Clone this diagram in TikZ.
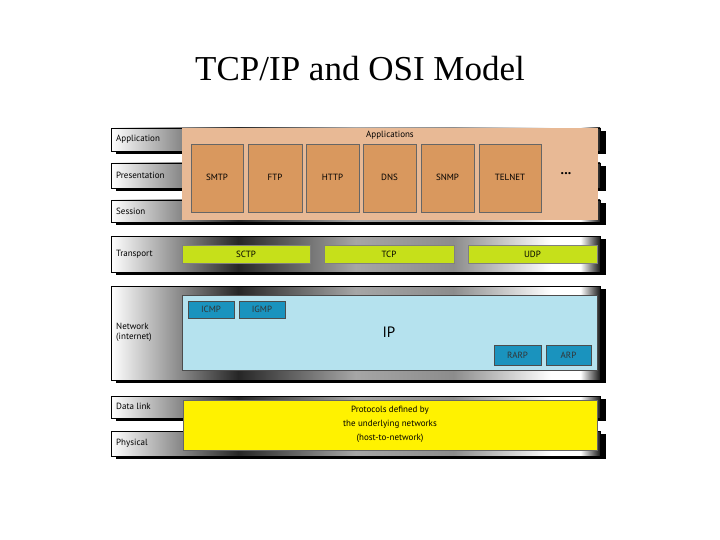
\documentclass[tikz,border=0pt]{standalone}
\usepackage{fontspec}
\setmainfont{Liberation Serif}
\newfontfamily\lblfont{PT Sans}
\pgfdeclarehorizontalshading{barshade}{100bp}{color(0bp)=(white); color(25bp)=(white); color(38bp)=(black!85); color(50bp)=(gray!70); color(60bp)=(black!45); color(70bp)=(white); color(73bp)=(white); color(75bp)=(black!90); color(100bp)=(black)}
\begin{document}
\begin{tikzpicture}[x=1pt,y=-1pt,
  bar/.style={draw=black,line width=0.6pt,shading=barshade},
  lbl/.style={font=\lblfont\fontsize{9}{10}\selectfont,anchor=west,inner sep=0},
  appbox/.style={draw=black!60,fill=appdark,line width=0.5pt},
  tbox/.style={fill=tgreen,draw=black!50,line width=0.4pt},
  ipbox/.style={fill=ipdark,draw=black!70,line width=0.5pt},
  txt/.style={font=\lblfont\fontsize{9}{10}\selectfont,align=center}]
\definecolor{appbg}{HTML}{E8B995}
\definecolor{appdark}{HTML}{D9985E}
\definecolor{tgreen}{HTML}{C6E01A}
\definecolor{ipbg}{HTML}{B5E2EE}
\definecolor{ipdark}{HTML}{1A93BE}
\useasboundingbox (0,0) rectangle (720,540);
\node (title) at (360,69) {\fontsize{35}{38}\selectfont TCP/IP and OSI Model};
\foreach \a/\b in {128/151,163/188,200/222,236/272,286/380,396/418,431/456}{
  \fill[black] (116,\a+3) rectangle (606,\b+3);
  \draw[bar] (111,\a) rectangle (600,\b);
}
\node[lbl] (l1) at (116,139) {Application};
\node[lbl] (l2) at (116,175) {Presentation};
\node[lbl] (l3) at (116,211) {Session};
\node[lbl] (l4) at (116,254) {Transport};
\node[lbl,align=left] (l5) at (116,332) {Network\\(internet)};
\node[lbl] (l6) at (116,406) {Data link};
\node[lbl] (l7) at (116,443) {Physical};
\fill[appbg] (182,128) rectangle (598,220);
\node[txt] (apps) at (390,135) {Applications};
\foreach \x/\y/\t in {191/243/SMTP,248/302/FTP,306/359/HTTP,363/416/DNS,421/474/SNMP,479/541/TELNET}{
  \draw[appbox] (\x,144) rectangle (\y,212);
  \node[txt] at ({(\x+\y)/2},177) {\t};
}
\node[txt,font=\lblfont\bfseries\fontsize{14}{14}\selectfont] (dots) at (566,174) {...};
\foreach \x/\y/\t in {182/310/SCTP,324/454/TCP,468/597/UDP}{
  \draw[tbox] (\x,245) rectangle (\y,263);
  \node[txt] at ({(\x+\y)/2},254) {\t};
}
\draw[fill=ipbg,draw=black!70,line width=0.5pt] (182,295) rectangle (597,370);
\node[font=\lblfont\fontsize{15}{16}\selectfont] (ip) at (389,332) {IP};
\foreach \x/\y/\ya/\yb/\t in {188/234/301/318/ICMP,239/285/301/318/IGMP,494/541/345/365/RARP,546/591/345/365/ARP}{
  \draw[ipbox] (\x,\ya) rectangle (\y,\yb);
  \node[txt,text=black!80] at ({(\x+\y)/2},{(\ya+\yb)/2}) {\t};
}
\draw[fill=yellow,draw=black!60,line width=0.4pt] (183,400) rectangle (597,450);
\node[txt,font=\lblfont\fontsize{9}{14}\selectfont] (proto) at (390,424) {Protocols defined by\\the underlying networks\\(host-to-network)};
\end{tikzpicture}
\end{document}
